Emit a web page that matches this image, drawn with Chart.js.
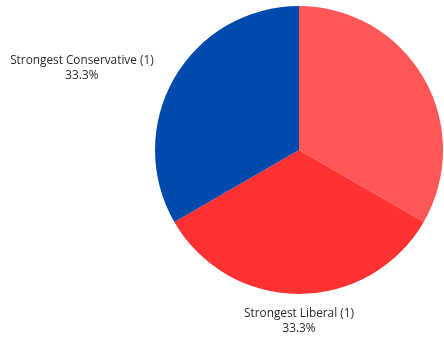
<!DOCTYPE html>
<html>
<head>
<meta charset="utf-8">
<script src="https://cdn.jsdelivr.net/npm/chart.js@4/dist/chart.umd.min.js"></script>
<style>
  html, body { margin: 0; padding: 0; background: #ffffff; }
  #wrap { width: 444px; height: 339px; position: relative; }
</style>
</head>
<body>
<div id="wrap"><canvas id="chart" width="444" height="339"></canvas></div>
<script>
// Ideology groups and respondent counts
const categories = ["Lean Liberal", "Strongest Liberal", "Strongest Conservative"];
const counts = [1, 1, 1];
const sliceColors = ["#FF5757", "#FF3131", "#004AAD"];

const total = counts.reduce((a, b) => a + b, 0);

// Draws "Name (n)" and percentage outside each slice
const outsideLabels = {
  id: "outsideLabels",
  afterDatasetsDraw(chart) {
    const { ctx } = chart;
    const meta = chart.getDatasetMeta(0);
    ctx.save();
    ctx.font = "11.8px 'Open Sans', sans-serif";
    ctx.fillStyle = "#2b2b2b";
    ctx.textBaseline = "middle";
    meta.data.forEach((arc, i) => {
      const mid = (arc.startAngle + arc.endAngle) / 2;
      const dist = arc.outerRadius + 25;
      const x = arc.x + Math.cos(mid) * dist + 1;
      const y = arc.y + Math.sin(mid) * dist + 2.5;
      const line1 = categories[i] + " (" + counts[i] + ")";
      const line2 = (counts[i] / total * 100).toFixed(1) + "%";
      const w = Math.max(ctx.measureText(line1).width, ctx.measureText(line2).width);
      const c = Math.cos(mid);
      let cx;
      if (c < -0.1) cx = x - w / 2;
      else if (c > 0.1) cx = x + w / 2;
      else cx = x - 1;
      ctx.textAlign = "center";
      ctx.fillText(line1, cx, y - 7.5);
      ctx.fillText(line2, cx, y + 7.5);
    });
    ctx.restore();
  }
};

new Chart(document.getElementById("chart"), {
  type: "pie",
  data: {
    labels: categories,
    datasets: [{
      data: counts,
      backgroundColor: sliceColors,
      borderWidth: 0
    }]
  },
  options: {
    responsive: false,
    animation: false,
    layout: { padding: { left: 155, right: 1, top: 6, bottom: 45 } },
    plugins: {
      legend: { display: false },
      tooltip: { enabled: false }
    }
  },
  plugins: [outsideLabels]
});
</script>
</body>
</html>
